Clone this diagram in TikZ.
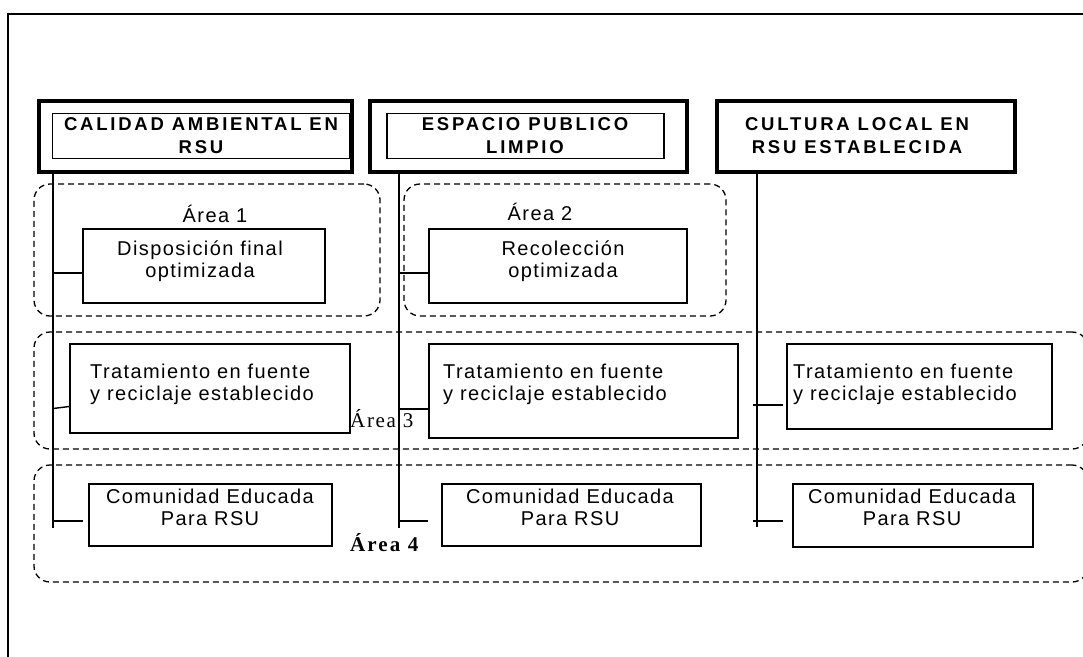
\documentclass[tikz,border=0pt]{standalone}
\usepackage{fontspec}
\setmainfont{Liberation Sans}
\newfontfamily\boxfont[LetterSpace=7]{Liberation Sans}
\newfontfamily\headfont[LetterSpace=15]{Liberation Sans Bold}
\newfontfamily\areafont[LetterSpace=8]{Liberation Serif}
\newfontfamily\areabfont[LetterSpace=10]{Liberation Serif Bold}
\tikzset{
  heavybox/.style={draw,line width=4pt,inner sep=0pt},
  thinbox/.style={draw,line width=1.5pt,inner sep=0pt},
  zone/.style={draw,dash pattern=on 6pt off 4pt,line width=1.3pt,rounded corners=16pt,inner sep=0pt},
  boxtext/.style={font=\boxfont\fontsize{20}{21.5}\selectfont,inner sep=0pt,anchor=base},
  headtext/.style={font=\headfont\fontsize{18.5}{23}\selectfont,inner sep=0pt,align=center,anchor=base},
  link/.style={line width=1.4pt}
}
\begin{document}
\begin{tikzpicture}[x=1pt,y=-1pt]
\useasboundingbox (0,0) rectangle (1083,656);
\clip (0,0) rectangle (1083,656);
\draw[line width=1.5pt] (8,662) -- (8,14) -- (1090,14);
\node[zone,minimum width=346pt,minimum height=132pt] (zone1) at (207,250) {};
\node[zone,minimum width=322pt,minimum height=132pt] (zone2) at (565,250) {};
\node[zone,minimum width=1054pt,minimum height=117pt] (zone3) at (561,390.5) {};
\node[zone,minimum width=1054pt,minimum height=117pt] (zone4) at (561,523.5) {};
\node[heavybox,minimum width=313pt,minimum height=71pt] (calidad) at (195.5,136.5) {};
\node[thinbox,minimum width=297pt,minimum height=45pt] (calidadin) at (201,136) {};
\node[headtext] (calidadtx) at (201,153) {CALIDAD AMBIENTAL EN\\RSU};
\node[heavybox,minimum width=317pt,minimum height=71pt] (espacio) at (528.5,136.5) {};
\node[thinbox,minimum width=277pt,minimum height=45pt] (espacioin) at (525.5,136) {};
\node[headtext] (espaciotx) at (525,153) {ESPACIO PUBLICO\\LIMPIO};
\node[heavybox,minimum width=298pt,minimum height=71pt] (cultura) at (866,136.5) {};
\node[headtext] (culturatx) at (857,153) {CULTURA LOCAL EN\\RSU ESTABLECIDA};
\node[boxtext] (area1) at (215,222) {Área 1};
\node[boxtext] (area2) at (540,220) {Área 2};
\node[thinbox,minimum width=242pt,minimum height=74pt] (dispo) at (204,266) {};
\node[boxtext,align=center] (dispotx) at (200,277) {Disposición final\\optimizada};
\node[thinbox,minimum width=258pt,minimum height=74pt] (recol) at (558,266) {};
\node[boxtext,align=center] (recoltx) at (563,277) {Recolección\\optimizada};
\node[thinbox,minimum width=280pt,minimum height=89pt] (trat1) at (210,388.5) {};
\node[boxtext,align=left,anchor=base west] (trat1tx) at (90,400) {Tratamiento en fuente\\y reciclaje establecido};
\node[thinbox,minimum width=309pt,minimum height=94pt] (trat2) at (583.5,391) {};
\node[boxtext,align=left,anchor=base west] (trat2tx) at (443,400) {Tratamiento en fuente\\y reciclaje establecido};
\node[thinbox,minimum width=265pt,minimum height=85pt] (trat3) at (919.5,386.5) {};
\node[boxtext,align=left,anchor=base west] (trat3tx) at (793,400) {Tratamiento en fuente\\y reciclaje establecido};
\node[font=\areafont\fontsize{21}{22}\selectfont,inner sep=0pt,anchor=base west] (area3) at (350,427) {Área 3};
\node[thinbox,minimum width=243pt,minimum height=62pt] (comu1) at (210.5,515) {};
\node[boxtext,align=center] (comu1tx) at (210,525) {Comunidad Educada\\Para RSU};
\node[thinbox,minimum width=259pt,minimum height=62pt] (comu2) at (571.5,515) {};
\node[boxtext,align=center] (comu2tx) at (570,525) {Comunidad Educada\\Para RSU};
\node[thinbox,minimum width=240pt,minimum height=63pt] (comu3) at (913,515.5) {};
\node[boxtext,align=center] (comu3tx) at (912,525) {Comunidad Educada\\Para RSU};
\node[font=\areabfont\fontsize{21}{22}\selectfont,inner sep=0pt,anchor=base west] (area4) at (350,551) {Área 4};
\coordinate (v1) at (53,528);
\coordinate (v2) at (399,528);
\coordinate (v3) at (757,527);
\draw[link] (calidad.south -| v1) -- (v1);
\draw[link] (espacio.south -| v2) -- (v2);
\draw[link] (cultura.south -| v3) -- (v3);
\draw[link] ([yshift=-7pt]dispo.west -| v1) -- ([yshift=-7pt]dispo.west);
\draw[link] ([yshift=-7pt]recol.west -| v2) -- ([yshift=-7pt]recol.west);
\draw[link] ([yshift=-20pt]trat1.west -| v1) -- ([yshift=-18pt]trat1.west);
\draw[link] ([yshift=-18pt]trat2.west -| v2) -- ([yshift=-18pt]trat2.west);
\draw[link] ([yshift=-18.5pt,xshift=-4pt]trat3.west -| v3) -- ([yshift=-18.5pt,xshift=-3pt]trat3.west);
\draw[link] ([yshift=-6pt]comu1.west -| v1) -- ([yshift=-6pt,xshift=-5pt]comu1.west);
\draw[link] ([yshift=-6pt]comu2.west -| v2) -- ([yshift=-6pt,xshift=-13pt]comu2.west);
\draw[link] ([yshift=-5.5pt,xshift=-4pt]comu3.west -| v3) -- ([yshift=-5.5pt,xshift=-9pt]comu3.west);
\end{tikzpicture}
\end{document}
